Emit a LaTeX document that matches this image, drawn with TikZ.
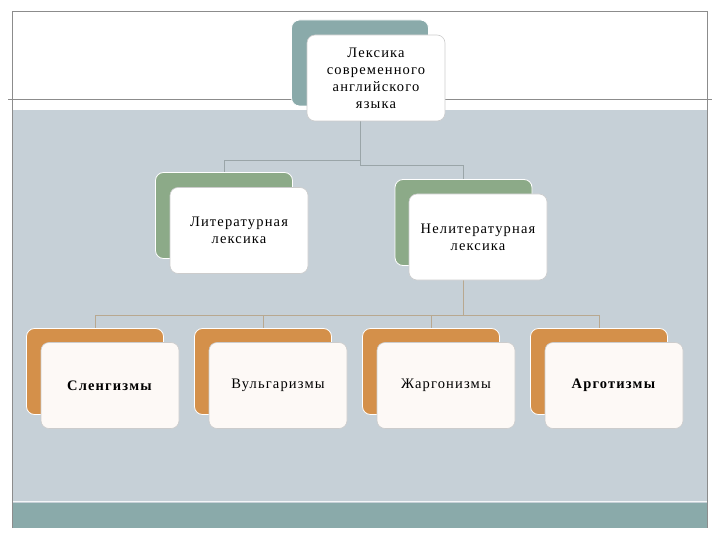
\documentclass[tikz,border=0pt]{standalone}
\usepackage{fontspec}
\setmainfont{Liberation Serif}[LetterSpace=8]
\definecolor{framegray}{HTML}{8C8C8C}
\definecolor{bggray}{HTML}{C6D0D7}
\definecolor{teal}{HTML}{8AAAAA}
\definecolor{moss}{HTML}{8CAA88}
\definecolor{ochre}{HTML}{D4904A}
\definecolor{linegray}{HTML}{9AA5A8}
\definecolor{linetan}{HTML}{B8A890}
\tikzset{
  backbox/.style={rounded corners=8pt,minimum width=137pt,minimum height=86pt,
    inner sep=0pt,draw=white,line width=0.8pt},
  frontbox/.style={rounded corners=8pt,minimum width=138pt,minimum height=86pt,
    inner sep=2pt,fill=white,draw=gray!40,line width=0.6pt,align=center,
    font=\fontsize{14.5}{17}\selectfont},
  link/.style={linegray,line width=0.8pt},
  leaflink/.style={linetan,line width=0.8pt}
}
\begin{document}
\begin{tikzpicture}[x=1pt,y=-1pt]
        \useasboundingbox (0,0) rectangle (720,540);
        % slide background
        \fill [white] (0,0) rectangle (720,540);
        \fill [bggray] (12,110) rectangle (707,503);
        \fill [teal] (12,503) rectangle (707,528);
        \draw [white!80!bggray,line width=1pt] (12,501.5) -- (707,501.5);
        \draw [framegray,line width=1pt]
          (12,528)
          -- (12,12)
          -- (707,12)
          -- (707,528)
        ;
        \draw [framegray,line width=1pt] (8,100) -- (712,100);

        % back boxes
        \node [backbox,fill=teal] (top) at (360,63) {};
        \node [backbox,fill=moss] (lit) at (224,215.5) {};
        \node [backbox,fill=moss] (nelit) at (463.5,222.5) {};
        \node [backbox,fill=ochre] (slang) at (95,371.5) {};
        \node [backbox,fill=ochre] (vulg) at (263,371.5) {};
        \node [backbox,fill=ochre] (jarg) at (431,371.5) {};
        \node [backbox,fill=ochre] (argo) at (599,371.5) {};

        % connectors
        \draw [link] (top.south) -- ++(0,54) -| (lit.north);
        \draw [link] (top.south) -- ++(0,59) -| (nelit.north);
        \foreach \leaf in {slang,vulg,jarg,argo}
          \draw [leaflink] (nelit.south) -- ++(0,49) -| (\leaf.north);

        % front boxes
        \node [frontbox] (topf) at (376,78)
          {Лексика\\современного\\английского\\языка};
        \node [frontbox] (litf) at (239,230.5)
          {Литературная\\лексика};
        \node [frontbox] (nelitf) at (478,237)
          {Нелитературная\\лексика};
        \node [frontbox,fill=white!95!ochre] (slangf) at (110,385.5)
          {\textbf{Сленгизмы}};
        \node [frontbox,fill=white!95!ochre] (vulgf) at (278,385.5)
          {Вульгаризмы};
        \node [frontbox,fill=white!95!ochre] (jargf) at (446,385.5)
          {Жаргонизмы};
        \node [frontbox,fill=white!95!ochre] (argof) at (614,385.5)
          {\textbf{Арготизмы}};
      \end{tikzpicture}
\end{document}
